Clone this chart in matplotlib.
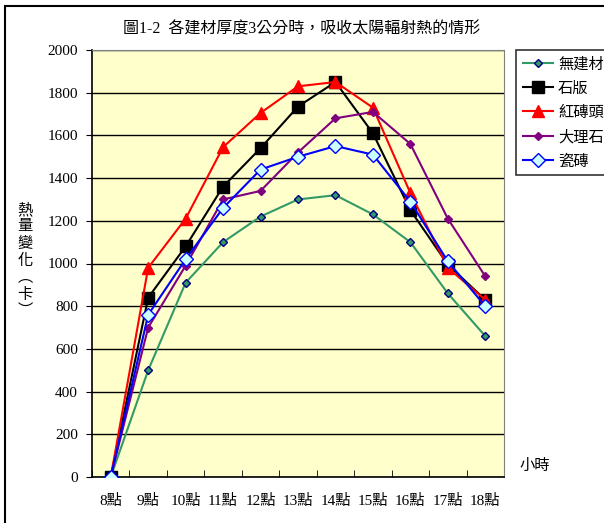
import matplotlib
matplotlib.use("Agg")
import matplotlib.pyplot as plt
from matplotlib.patches import Rectangle

plt.rcParams['font.family'] = ['Liberation Serif', 'Noto Sans CJK TC', 'DejaVu Sans']

hours = ['8點', '9點', '10點', '11點', '12點', '13點', '14點', '15點', '16點', '17點', '18點']
none_mat = [0, 500, 910, 1100, 1220, 1300, 1320, 1230, 1100, 860, 660]
slate = [0, 840, 1080, 1360, 1540, 1735, 1850, 1610, 1250, 995, 830]
brick = [0, 980, 1210, 1545, 1705, 1830, 1850, 1730, 1330, 980, 830]
marble = [0, 700, 990, 1300, 1340, 1520, 1680, 1710, 1560, 1210, 940]
tile = [0, 760, 1020, 1260, 1440, 1500, 1550, 1510, 1290, 1010, 800]

fig = plt.figure(figsize=(6.04, 5.23), dpi=100)
ax = fig.add_axes([92 / 604, 1 - 477 / 523, 412 / 604, 427 / 523])
ax.set_facecolor('#FFFFCC')

x = range(len(hours))
ax.plot(x, none_mat, color='#339966', lw=1.5, marker='D', ms=4,
        mfc='#339966', mec='#000080', label='無建材', zorder=3)
ax.plot(x, slate, color='black', lw=1.5, marker='s', ms=8,
        mfc='black', mec='black', label='石版', zorder=3)
ax.plot(x, brick, color='#FF0000', lw=1.5, marker='^', ms=9,
        mfc='#FF0000', mec='#FF0000', label='紅磚頭', zorder=3)
ax.plot(x, marble, color='#800080', lw=1.5, marker='D', ms=4,
        mfc='#800080', mec='#800080', label='大理石', zorder=3)
ax.plot(x, tile, color='#0000FF', lw=1.5, marker='D', ms=7,
        mfc='#CCFFFF', mec='#0000FF', label='瓷磚', zorder=4)

ax.set_xlim(-0.5, len(hours) - 0.5)
ax.set_ylim(0, 2000)
ax.set_yticks(range(0, 2001, 200))
ax.set_xticks(list(x))
ax.set_xticklabels(hours)
ax.set_xticks([i - 0.5 for i in range(len(hours) + 1)], minor=True)
ax.tick_params(axis='x', which='major', length=0, pad=12, labelsize=11)
ax.tick_params(axis='x', which='minor', direction='in', length=5, color='black')
ax.tick_params(axis='y', length=4, direction='out', labelsize=11, pad=6)
ax.yaxis.grid(True, color='black', lw=1)
ax.set_axisbelow(True)
for s in ['top', 'right']:
    ax.spines[s].set_color('#808080')
for s in ['left', 'bottom']:
    ax.spines[s].set_color('black')
    ax.spines[s].set_linewidth(1.2)

fig.text(302 / 604, 1 - 29 / 523, '圖1-2  各建材厚度3公分時，吸收太陽輻射熱的情形',
         ha='center', va='center', fontsize=11.5)
fig.text(25 / 604, 1 - 260 / 523, '熱\n量\n變\n化\n︵\n卡\n︶',
         ha='center', va='center', fontsize=11, linespacing=1.3)
fig.text(535 / 604, 1 - 466 / 523, '小時', ha='center', va='center', fontsize=11)

leg = fig.legend(loc='upper left', bbox_to_anchor=(516 / 604, 1 - 50 / 523),
                 fontsize=11, frameon=True, fancybox=False, edgecolor='black',
                 handlelength=2.0, labelspacing=0.66, borderpad=0.45,
                 handletextpad=0.3, borderaxespad=0)
leg.get_frame().set_linewidth(1.2)

# outer chart border
fig.patches.append(Rectangle((5 / 604, -0.5), 2, 0.5 + 1 - 6 / 523,
                             transform=fig.transFigure, fill=False,
                             edgecolor='black', lw=1.5, clip_on=False))

fig.savefig('out.png', dpi=100)
